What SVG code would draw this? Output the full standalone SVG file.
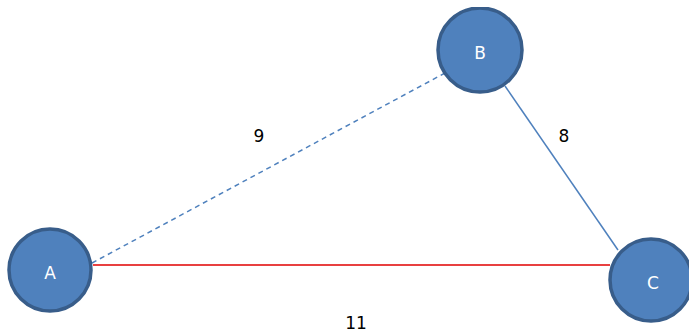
<svg xmlns="http://www.w3.org/2000/svg" width="689" height="335" viewBox="0 0 689 335">
<style>
.node{fill:#4f81bd;stroke:#385d8a;stroke-width:3.5}
.nl{font-family:"DejaVu Sans",Verdana,sans-serif;font-size:17px;fill:#ffffff;text-anchor:middle}
.el{font-family:"DejaVu Sans",Verdana,sans-serif;font-size:17px;fill:#000000;text-anchor:middle}
</style>
<defs><clipPath id="topclip"><rect x="0" y="7" width="689" height="328"/></clipPath></defs>
<rect width="689" height="335" fill="#ffffff"/>
<g id="connectors">
<line x1="92" y1="263" x2="445" y2="73" stroke="#4f81bd" stroke-width="1.5" stroke-dasharray="5,4"/>
<line x1="505" y1="86" x2="618" y2="250" stroke="#4f81bd" stroke-width="1.5"/>
<line x1="93" y1="265" x2="610" y2="265" stroke="#e00000" stroke-width="1.5"/>
<text class="el" x="259" y="142">9</text>
<text class="el" x="564" y="142">8</text>
<text class="el" x="356" y="329">11</text>
</g>
<g id="A"><circle class="node" cx="50" cy="270" r="41"/><text class="nl" x="50" y="279">A</text></g>
<g id="B" clip-path="url(#topclip)"><circle class="node" cx="480" cy="50" r="42"/><text class="nl" x="480" y="59">B</text></g>
<g id="C"><circle class="node" cx="651" cy="280" r="41"/><text class="nl" x="653" y="289">C</text></g>
</svg>
